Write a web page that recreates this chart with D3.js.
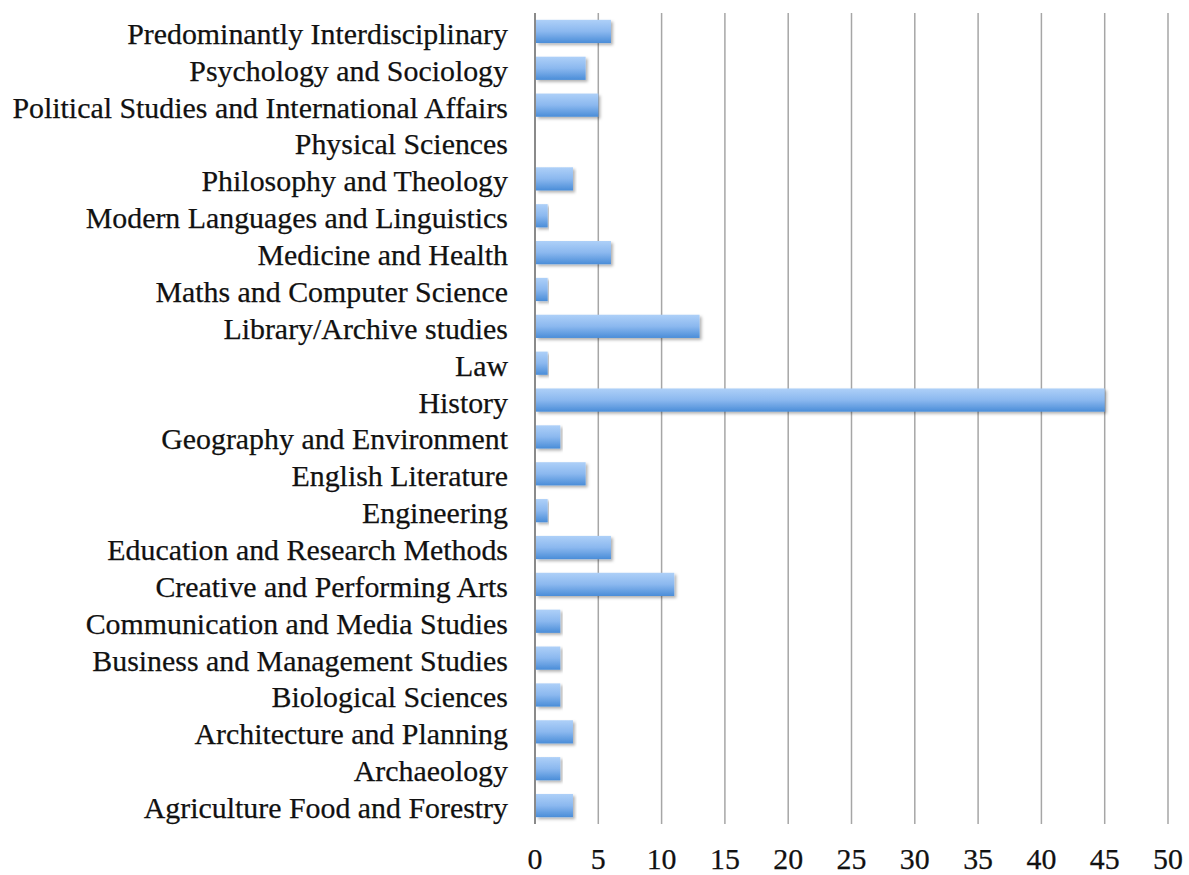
<!DOCTYPE html>
<html><head><meta charset="utf-8">
<script src="https://cdn.jsdelivr.net/npm/d3@7"></script>
<style>html,body{margin:0;padding:0;background:#fff}</style>
</head><body>
<svg id="chart" width="1189" height="875"></svg>
<script>
const categories = ["Predominantly Interdisciplinary","Psychology and Sociology","Political Studies and International Affairs","Physical Sciences","Philosophy and Theology","Modern Languages and Linguistics","Medicine and Health","Maths and Computer Science","Library/Archive studies","Law","History","Geography and Environment","English Literature","Engineering","Education and Research Methods","Creative and Performing Arts","Communication and Media Studies","Business and Management Studies","Biological Sciences","Architecture and Planning","Archaeology","Agriculture Food and Forestry"];
const values = [6,4,5,0,3,1,6,1,13,1,45,2,4,1,6,11,2,2,2,3,2,3];
const xTicks = [0,5,10,15,20,25,30,35,40,45,50];

(function(){
const svg = d3.select("#chart");
const mLeft = 535, mRight = 1168, mTop = 13, mBottom = 824;
const x = d3.scaleLinear().domain([0,50]).range([mLeft,mRight]);
const y = d3.scaleBand().domain(categories).range([mTop,mBottom]).paddingInner(0.37).paddingOuter(0.185);

const defs = svg.append("defs");
const g = defs.append("linearGradient").attr("id","barGrad").attr("x1",0).attr("y1",0).attr("x2",0).attr("y2",1);
g.append("stop").attr("offset","0%").attr("stop-color","#aed0f8");
g.append("stop").attr("offset","50%").attr("stop-color","#8bb8ef");
g.append("stop").attr("offset","100%").attr("stop-color","#4a8dd8");
const f = defs.append("filter").attr("id","shadow").attr("x","-5%").attr("y","-30%").attr("width","115%").attr("height","170%");
f.append("feDropShadow").attr("dx",2).attr("dy",2).attr("stdDeviation",1.5).attr("flood-color","#000").attr("flood-opacity",0.3);

svg.append("g").selectAll("line").data(xTicks).join("line")
  .attr("x1",d=>x(d)).attr("x2",d=>x(d)).attr("y1",mTop).attr("y2",mBottom)
  .attr("stroke",d=>d===0?"#8a8a8a":"#a6a6a6").attr("stroke-width",d=>d===0?2:1.5);

svg.append("g").selectAll("rect").data(categories.map((c,i)=>({c,v:values[i]})).filter(d=>d.v>0)).join("rect")
  .attr("x",x(0)+1).attr("y",d=>y(d.c)).attr("width",d=>x(d.v)-x(0)-1).attr("height",y.bandwidth())
  .attr("fill","url(#barGrad)").attr("filter","url(#shadow)");

const labels = svg.append("g").selectAll("text").data(categories).join("text")
  .attr("x",508).attr("y",d=>y(d)+y.bandwidth()/2+2).attr("dy","0.35em")
  .attr("text-anchor","end").attr("font-family","Liberation Serif, serif").attr("font-size",25)
  .attr("fill","#111").attr("stroke","#111").attr("stroke-width",0.25).text(d=>d);
let maxW = 0; labels.each(function(){maxW=Math.max(maxW,this.getComputedTextLength());});
const fs = 25*496/maxW;
labels.attr("font-size",fs);

svg.append("g").selectAll("text").data(xTicks).join("text")
  .attr("x",d=>x(d)).attr("y",859).attr("dy","0.35em").attr("text-anchor","middle")
  .attr("font-family","Liberation Serif, serif").attr("font-size",fs).attr("fill","#111")
  .attr("stroke","#111").attr("stroke-width",0.25).text(d=>d);
})();
</script>
</body></html>
